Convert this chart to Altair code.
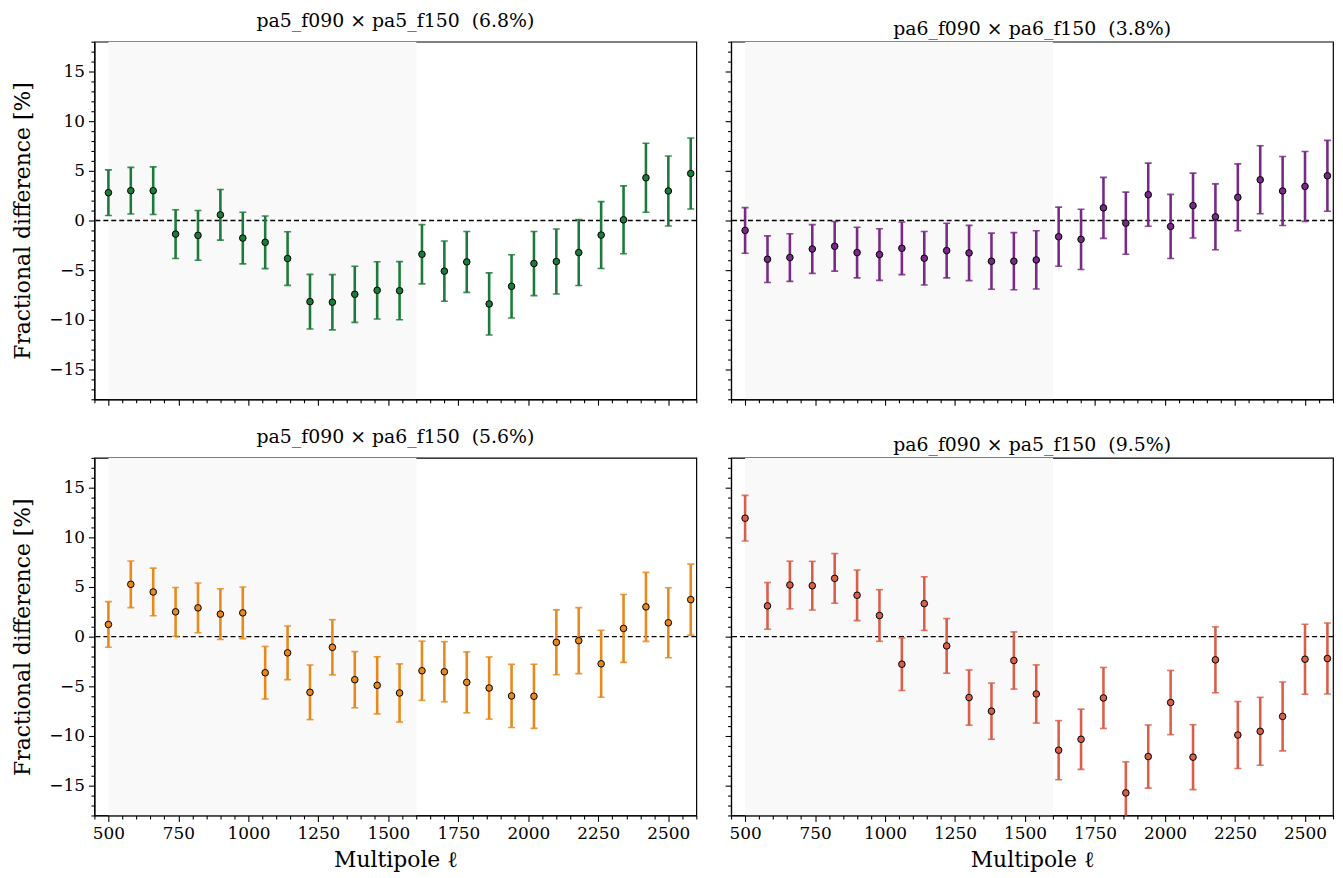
import altair as alt
import pandas as pd

# multipole bin centres
ell = [500, 580, 660, 740, 820, 900, 980, 1060, 1140, 1220, 1300, 1380, 1460, 1540,
       1620, 1700, 1780, 1860, 1940, 2020, 2100, 2180, 2260, 2340, 2420, 2500, 2580]

# 1-sigma error bars (same for every panel)
err = [2.30, 2.35, 2.40, 2.45, 2.50, 2.55, 2.60, 2.65, 2.70, 2.75, 2.78, 2.83, 2.88, 2.93,
       2.98, 3.03, 3.07, 3.13, 3.18, 3.23, 3.27, 3.32, 3.37, 3.42, 3.47, 3.52, 3.57]

pa5_pa5 = [2.8, 3.0, 3.0, -1.37, -1.5, 0.57, -1.77, -2.2, -3.83, -8.17, -8.23, -7.43, -7.03, -7.07,
           -3.4, -5.1, -4.17, -8.4, -6.63, -4.33, -4.13, -3.23, -1.47, 0.07, 4.3, 2.97, 4.73]
pa6_pa6 = [-1.0, -3.9, -3.73, -2.87, -2.6, -3.23, -3.43, -2.8, -3.8, -3.03, -3.27, -4.1, -4.1, -3.97,
           -1.63, -1.9, 1.27, -0.27, 2.6, -0.6, 1.5, 0.37, 2.33, 4.1, 2.97, 3.43, 4.5]
pa5_pa6 = [1.23, 5.27, 4.5, 2.5, 2.9, 2.27, 2.4, -3.63, -1.63, -5.6, -1.07, -4.33, -4.9, -5.67,
           -3.43, -3.53, -4.6, -5.17, -5.97, -6.0, -0.57, -0.4, -2.73, 0.83, 3.0, 1.4, 3.73]
pa6_pa5 = [11.93, 3.1, 5.2, 5.13, 5.87, 4.17, 2.13, -2.77, 3.33, -0.93, -6.13, -7.5, -2.4, -5.77,
           -11.43, -10.33, -6.17, -15.73, -12.07, -6.63, -12.13, -2.33, -9.9, -9.53, -8.03, -2.27, -2.2]

titles = ["pa5_f090 × pa5_f150 \u00a0(6.8%)", "pa6_f090 × pa6_f150 \u00a0(3.8%)",
          "pa5_f090 × pa6_f150 \u00a0(5.6%)", "pa6_f090 × pa5_f150 \u00a0(9.5%)"]
colors = ["#1e7a3a", "#782a86", "#e8891c", "#d95f4a"]
series = [pa5_pa5, pa6_pa6, pa5_pa6, pa6_pa5]

shade_range = [500, 1600]
x_domain = [450, 2600]
y_domain = [-18, 18]

W, H = 606, 360
FONT = "DejaVu Serif"

xs = alt.Scale(domain=x_domain, nice=False, zero=False)
ys = alt.Scale(domain=y_domain, nice=False, zero=False)

x_vals = list(range(450, 2601, 50))
y_vals = list(range(-18, 19))


def x_axis(show):
    return alt.Axis(
        values=x_vals,
        labelExpr="datum.value % 250 === 0 ? datum.label : ''",
        labels=show,
        labelOverlap=False,
        labelFlush=False,
        format="d",
        tickSize={"condition": {"test": "datum.value % 250 === 0", "value": 6}, "value": 3.5},
        title="Multipole ℓ" if show else None,
        titleFontSize=22,
        titlePadding=8,
        grid=False,
    )


def y_axis(show):
    return alt.Axis(
        values=y_vals,
        labelExpr="datum.value % 5 === 0 ? datum.label : ''",
        labels=show,
        labelOverlap=False,
        labelFlush=False,
        tickSize={"condition": {"test": "datum.value % 5 === 0", "value": 6}, "value": 3.5},
        title="Fractional difference [%]" if show else None,
        titleFontSize=22,
        titlePadding=14,
        grid=False,
    )


def panel(i, show_x, show_y):
    vals = series[i]
    df = pd.DataFrame({
        "ell": ell,
        "y": vals,
        "lo": [v - e for v, e in zip(vals, err)],
        "hi": [v + e for v, e in zip(vals, err)],
    })
    col = colors[i]
    X = alt.X("ell:Q", scale=xs, axis=x_axis(show_x))
    shade = alt.Chart(pd.DataFrame({"a": [shade_range[0]], "b": [shade_range[1]]})).mark_rect(
        color="#f9f9f9", clip=True
    ).encode(
        x=alt.X("a:Q", scale=xs, axis=x_axis(show_x)), x2="b:Q",
        y=alt.value(0), y2=alt.value(H)
    )
    zero = alt.Chart(pd.DataFrame({"z": [0]})).mark_rule(
        color="black", strokeDash=[5, 3], strokeWidth=1.4
    ).encode(y=alt.Y("z:Q", scale=ys, axis=y_axis(show_y)))
    base = alt.Chart(df)
    bars = base.mark_rule(color=col, strokeWidth=2.6, clip=True).encode(
        x=X, y=alt.Y("lo:Q", scale=ys, axis=y_axis(show_y)), y2="hi:Q"
    )
    cap_lo = base.mark_tick(color=col, orient="horizontal", size=7, thickness=1.6,
                            opacity=0.85, clip=True).encode(
        x=X, y=alt.Y("lo:Q", scale=ys, axis=y_axis(show_y))
    )
    cap_hi = base.mark_tick(color=col, orient="horizontal", size=7, thickness=1.6,
                            opacity=0.85, clip=True).encode(
        x=X, y=alt.Y("hi:Q", scale=ys, axis=y_axis(show_y))
    )
    pts = base.mark_circle(size=44, color=col, opacity=1, stroke="black",
                           strokeWidth=1.0, clip=True).encode(
        x=X, y=alt.Y("y:Q", scale=ys, axis=y_axis(show_y))
    )
    return alt.layer(shade, zero, bars, cap_lo, cap_hi, pts).properties(
        width=W, height=H,
        title=alt.TitleParams(titles[i], font=FONT, fontSize=19, fontWeight="normal",
                              color="black", offset=2)
    )


row1 = alt.hconcat(panel(0, False, True), panel(1, False, False), spacing=25)
row2 = alt.hconcat(panel(2, True, True), panel(3, True, False), spacing=25)

chart = alt.vconcat(row1, row2, spacing=19).properties(
    padding={"left": 3, "top": 0, "right": 0, "bottom": 0},
    background="white"
).configure_view(
    stroke="black", strokeWidth=1.2
).configure_axis(
    domainColor="black", domainWidth=1.2, tickColor="black", tickWidth=1.1,
    labelFont=FONT, labelFontSize=17, labelColor="black", labelPadding=4,
    titleFont=FONT, titleFontWeight="normal", titleColor="black"
)

chart.save("out.html", embed_options={"renderer": "svg", "actions": False})
